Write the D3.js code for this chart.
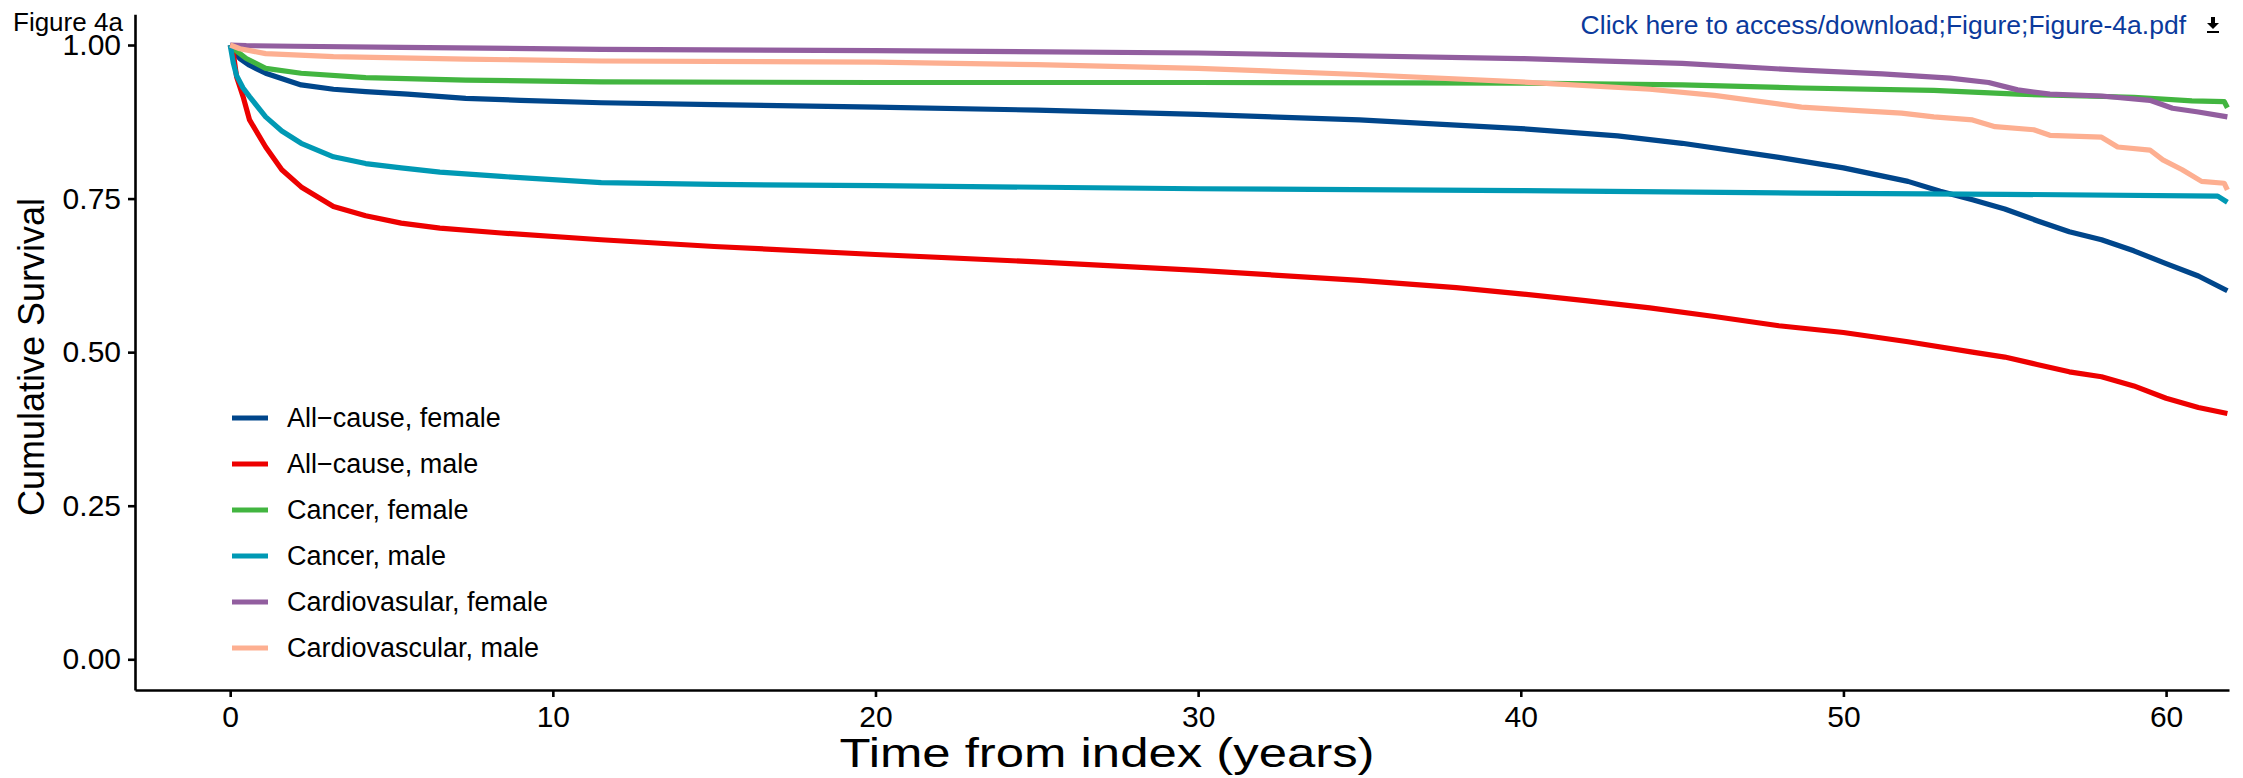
<!DOCTYPE html>
<html>
<head>
<meta charset="utf-8">
<script src="https://cdn.jsdelivr.net/npm/d3@7"></script>
<style>
  body { margin: 0; background: #fff; }
  svg { display: block; font-family: "Liberation Sans", Arial, sans-serif; }
</style>
</head>
<body>
<div id="chart"></div>
<script>
// years from index / cumulative survival
var tAllF = [0,0.1,0.3,0.6,1.1,2.2,3.2,4.2,5.5,7.3,9,11.5,15,20,25,30,35,40,43,45,48,50,52,53,54,55,56,57,58,59,60,61,61.9];
var sAllF = [1,0.99,0.978,0.967,0.954,0.935,0.928,0.924,0.92,0.913,0.91,0.906,0.903,0.899,0.894,0.887,0.878,0.864,0.852,0.84,0.817,0.80,0.778,0.762,0.748,0.733,0.714,0.696,0.683,0.665,0.644,0.624,0.60];

var tAllM = [0,0.1,0.2,0.4,0.6,1.1,1.6,2.2,3.2,4.2,5.3,6.5,8.4,11.5,15,20,25,30,35,38,40,42,44,46,48,50,52,54,55,56,57,58,59,60,61,61.9];
var sAllM = [1,0.985,0.948,0.916,0.878,0.834,0.797,0.769,0.737,0.722,0.71,0.702,0.694,0.683,0.672,0.659,0.647,0.633,0.617,0.605,0.595,0.584,0.572,0.558,0.543,0.532,0.517,0.5,0.492,0.48,0.468,0.46,0.445,0.425,0.41,0.40];

var tCanF = [0,0.2,0.5,1.1,2.2,4.2,7.3,11.5,20,30,40,45,48.7,52.8,55.4,59,60.8,61.8,61.9];
var sCanF = [1,0.99,0.978,0.962,0.954,0.947,0.943,0.94,0.939,0.939,0.938,0.935,0.93,0.926,0.92,0.915,0.909,0.908,0.898];

var tCanM = [0,0.1,0.2,0.4,0.6,1.1,1.6,2.2,3.2,4.2,5.3,6.5,8.4,11.5,15,20,30,40,48.7,55,61.6,61.9];
var sCanM = [1,0.97,0.95,0.93,0.916,0.883,0.86,0.84,0.818,0.807,0.80,0.793,0.786,0.776,0.773,0.771,0.766,0.763,0.759,0.757,0.754,0.744];

var tCvF = [0,0.5,2,5.3,11.5,20,30,40,45,48.7,51.2,53.3,54.5,55.4,56.4,58,59.5,60.2,61,61.9];
var sCvF = [1,0.999,0.998,0.996,0.993,0.991,0.987,0.978,0.97,0.959,0.953,0.946,0.939,0.927,0.92,0.917,0.91,0.897,0.891,0.883];

var tCvM = [0,0.3,1.1,3.2,7.3,11.5,20,25,30,35,40,44,46,48.7,50.2,51.8,52.8,54,54.7,55.9,56.4,58,58.5,59.5,59.9,60.5,61.1,61.8,61.9];
var sCvM = [1,0.994,0.986,0.981,0.977,0.974,0.972,0.968,0.962,0.952,0.94,0.928,0.918,0.899,0.894,0.889,0.883,0.878,0.867,0.862,0.853,0.85,0.834,0.829,0.813,0.797,0.778,0.775,0.764];

var seriesNames = ["All\u2212cause, female", "All\u2212cause, male", "Cancer, female", "Cancer, male", "Cardiovasular, female", "Cardiovascular, male"];
var seriesColors = ["#00468B", "#ED0000", "#42B540", "#0099B4", "#925E9F", "#FDAF91"];
var xTicks = [0, 10, 20, 30, 40, 50, 60];
var yTicks = [0, 0.25, 0.5, 0.75, 1];

var seriesT = [tAllF, tAllM, tCanF, tCanM, tCvF, tCvM];
var seriesS = [sAllF, sAllM, sCanF, sCanM, sCvF, sCvM];

var W = 2243, H = 778;
var svg = d3.select("#chart").append("svg")
  .attr("width", W)
  .attr("height", H);

var x = d3.scaleLinear().domain([-2.95, 61.95]).range([135, 2229]);
var y = d3.scaleLinear().domain([-0.05, 1.05]).range([690, 14.3]);

var line = d3.line()
  .x(function(d) { return x(d[0]); })
  .y(function(d) { return y(d[1]); });

var order = d3.range(seriesNames.length);
svg.append("g").selectAll("path")
  .data(order)
  .enter().append("path")
  .attr("d", function(i) { return line(d3.zip(seriesT[i], seriesS[i])); })
  .attr("fill", "none")
  .attr("stroke", function(i) { return seriesColors[i]; })
  .attr("stroke-width", 5.2)
  .attr("stroke-linejoin", "round");

// axes
var xAxis = svg.append("g")
  .attr("transform", "translate(0,690)")
  .call(d3.axisBottom(x).tickValues(xTicks).tickSize(7).tickSizeOuter(0).tickPadding(9));
var yAxis = svg.append("g")
  .attr("transform", "translate(135,0)")
  .call(d3.axisLeft(y).tickValues(yTicks).tickFormat(d3.format(".2f")).tickSize(7).tickSizeOuter(0).tickPadding(7));

[xAxis, yAxis].forEach(function(a) {
  a.select(".domain").attr("stroke", "#000").attr("stroke-width", 2.6);
  a.selectAll(".tick line").attr("stroke", "#000").attr("stroke-width", 2.6);
  a.selectAll(".tick text")
    .attr("fill", "#000")
    .style("font-family", "'Liberation Sans', Arial, sans-serif")
    .style("font-size", "30px");
});

// axis titles
svg.append("text")
  .attr("x", 1107)
  .attr("y", 767)
  .attr("text-anchor", "middle")
  .attr("textLength", 535)
  .attr("lengthAdjust", "spacingAndGlyphs")
  .style("font-size", "40px")
  .text("Time from index (years)");

svg.append("text")
  .attr("transform", "translate(44,357) rotate(-90)")
  .attr("text-anchor", "middle")
  .style("font-size", "36px")
  .text("Cumulative Survival");

// legend
var legend = svg.append("g").selectAll("g")
  .data(order)
  .enter().append("g")
  .attr("transform", function(i) { return "translate(0," + (418 + i * 46) + ")"; });
legend.append("line")
  .attr("x1", 232).attr("x2", 268)
  .attr("stroke", function(i) { return seriesColors[i]; })
  .attr("stroke-width", 5);
legend.append("text")
  .attr("x", 287)
  .attr("dy", "0.35em")
  .style("font-size", "27px")
  .text(function(i) { return seriesNames[i]; });

// page furniture
svg.append("text")
  .attr("x", 13)
  .attr("y", 31)
  .style("font-size", "26px")
  .text("Figure 4a");

svg.append("text")
  .attr("x", 2186)
  .attr("y", 34)
  .attr("text-anchor", "end")
  .attr("fill", "#0b3a9c")
  .style("font-size", "26.5px")
  .text("Click here to access/download;Figure;Figure-4a.pdf");

var icon = svg.append("g").attr("fill", "#000");
icon.append("rect").attr("x", 2211).attr("y", 17).attr("width", 4).attr("height", 6);
icon.append("path").attr("d", "M2207,23 L2219,23 L2213,29 Z");
icon.append("rect").attr("x", 2207).attr("y", 31).attr("width", 12).attr("height", 2);
</script>
</body>
</html>
